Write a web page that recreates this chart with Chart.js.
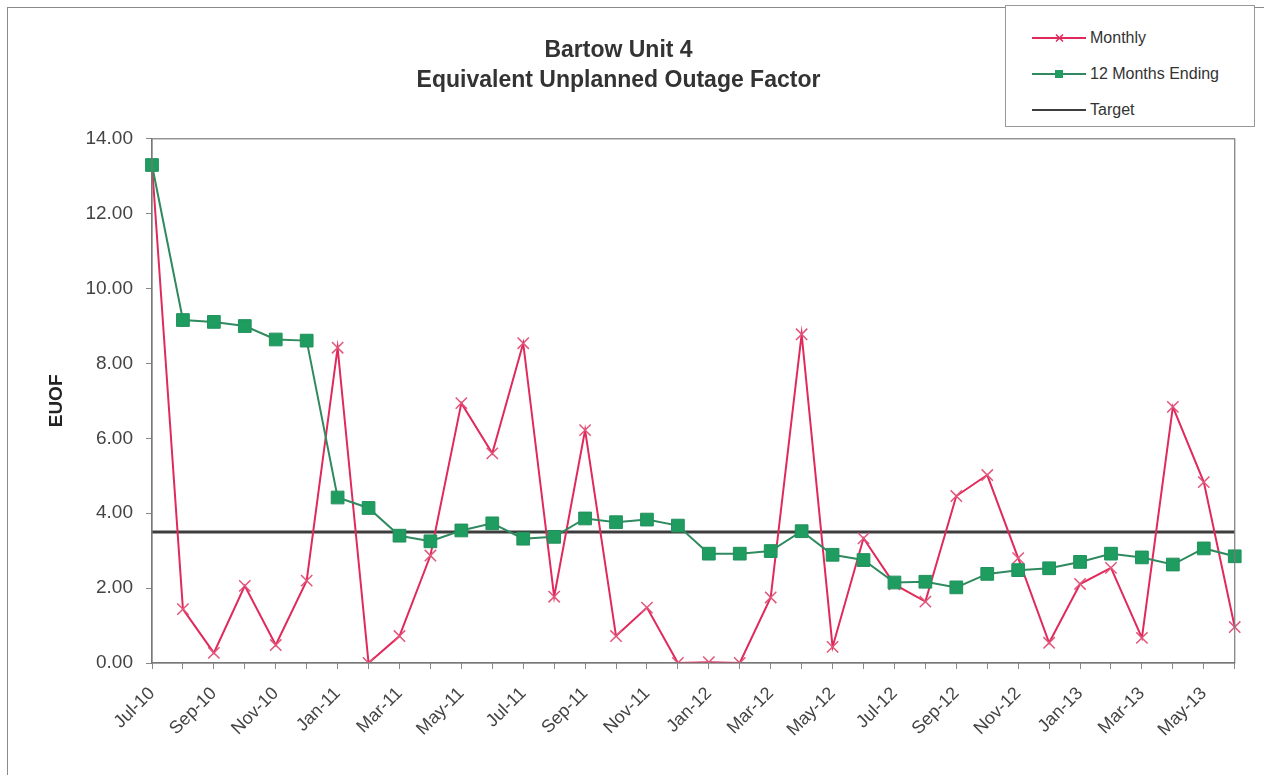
<!DOCTYPE html>
<html>
<head>
<meta charset="utf-8">
<title>Bartow Unit 4 - EUOF</title>
<script src="https://cdn.jsdelivr.net/npm/chart.js@4.4.1/dist/chart.umd.min.js"></script>
<style>
  html, body { margin:0; padding:0; background:#fff; }
  body { width:1264px; height:775px; position:relative; overflow:hidden; font-family:"Liberation Sans", Arial, sans-serif; }
  #frame { position:absolute; left:7px; top:7px; width:1300px; height:800px; border:1px solid #8a8a8a; box-sizing:border-box; }
  #wrap { position:absolute; left:0; top:0; width:1264px; height:775px; }
  #legend { position:absolute; left:1005px; top:5px; width:250px; height:122px; border:1px solid #999; background:#fff; box-sizing:border-box; }
  #legend .item { position:absolute; left:26px; height:20px; display:flex; align-items:center; font-size:16px; color:#333; }
  #legend svg { margin-right:2px; }
</style>
</head>
<body>
<div id="frame"></div>
<div id="wrap"><canvas id="chart-euof" width="1264" height="775"></canvas></div>
<div id="legend"></div>

<script>
// --- DATA ---
const months = [
  'Jul-10','Aug-10','Sep-10','Oct-10','Nov-10','Dec-10',
  'Jan-11','Feb-11','Mar-11','Apr-11','May-11','Jun-11','Jul-11','Aug-11','Sep-11','Oct-11','Nov-11','Dec-11',
  'Jan-12','Feb-12','Mar-12','Apr-12','May-12','Jun-12','Jul-12','Aug-12','Sep-12','Oct-12','Nov-12','Dec-12',
  'Jan-13','Feb-13','Mar-13','Apr-13','May-13','Jun-13'
];
const monthly = [
  13.30, 1.44, 0.27, 2.06, 0.48, 2.20,
  8.42, 0.00, 0.72, 2.87, 6.94, 5.60, 8.54, 1.77, 6.22, 0.72, 1.48, 0.00,
  0.02, 0.00, 1.75, 8.78, 0.43, 3.33, 2.10, 1.64, 4.46, 5.02, 2.80, 0.54,
  2.11, 2.54, 0.67, 6.84, 4.83, 0.96
];
const twelveMonthsEnding = [
  13.30, 9.16, 9.11, 9.00, 8.64, 8.61,
  4.42, 4.14, 3.40, 3.25, 3.54, 3.73, 3.32, 3.37, 3.86, 3.76, 3.83, 3.67,
  2.92, 2.92, 2.99, 3.52, 2.89, 2.75, 2.15, 2.17, 2.02, 2.38, 2.48, 2.53,
  2.70, 2.92, 2.82, 2.63, 3.06, 2.85
];
const targetValue = 3.50;
const yTicks = [0, 2, 4, 6, 8, 10, 12, 14];

document.addEventListener("DOMContentLoaded", () => {

  const FONT = '"Liberation Sans", Arial, sans-serif';

  // frame round the plot area
  const plotFrame = {
    id: 'plotFrame',
    afterDatasetsDraw(chart) {
      const a = chart.chartArea, c = chart.ctx;
      c.save();
      c.strokeStyle = '#7a7a7a';
      c.lineWidth = 1.2;
      c.strokeRect(a.left, a.top, a.right - a.left, a.bottom - a.top);
      c.restore();
    }
  };

  const datasets = [
    {
      label: 'Monthly',
      data: monthly,
      borderColor: '#e02a5c',
      backgroundColor: '#e02a5c',
      borderWidth: 2,
      pointStyle: 'crossRot',
      pointRadius: 8,
      pointBorderWidth: 1.5,
      pointBorderColor: '#e2557a',
      tension: 0,
      order: 2
    },
    {
      label: '12 Months Ending',
      data: twelveMonthsEnding,
      borderColor: '#2f8a5f',
      backgroundColor: '#1f9c60',
      borderWidth: 2,
      pointStyle: 'rect',
      pointRadius: 9,
      pointBorderWidth: 1,
      pointBorderColor: '#22915c',
      pointBackgroundColor: '#1f9c60',
      tension: 0,
      order: 1
    },
    {
      label: 'Target',
      data: months.map(() => targetValue),
      borderColor: '#3d3d3d',
      backgroundColor: '#3d3d3d',
      borderWidth: 3,
      pointRadius: 0,
      tension: 0,
      order: 3
    }
  ];

  new Chart(document.getElementById('chart-euof').getContext('2d'), {
    type: 'line',
    data: { labels: months, datasets },
    plugins: [plotFrame],
    options: {
      responsive: false,
      animation: false,
      layout: { padding: { left: 0, right: 27, top: 0, bottom: 0 } },
      plugins: {
        legend: { display: false },
        tooltip: { enabled: false },
        title: {
          display: true,
          text: ['Bartow Unit 4', 'Equivalent Unplanned Outage Factor'],
          color: '#333',
          font: { family: FONT, size: 23, weight: 'bold', lineHeight: 1.3 },
          padding: { top: 36, bottom: 43 }
        }
      },
      scales: {
        x: {
          offset: false,
          grid: { drawOnChartArea: false, drawTicks: true, tickLength: 6, color: '#888' },
          border: { color: '#777', width: 1.2 },
          ticks: {
            autoSkip: false,
            maxRotation: 45,
            minRotation: 45,
            color: '#444',
            padding: 14,
            font: { family: FONT, size: 18 },
            callback: (v, i) => (i % 2 === 0 ? months[i] : '')
          },
          afterFit: (s) => { s.height = 112; }
        },
        y: {
          min: 0,
          max: 14,
          afterBuildTicks: (s) => { s.ticks = yTicks.map(v => ({ value: v })); },
          grid: { drawOnChartArea: false, drawTicks: true, tickLength: 6, color: '#888' },
          border: { color: '#777', width: 1.2 },
          ticks: {
            color: '#444',
            padding: 13,
            font: { family: FONT, size: 19 },
            callback: (v) => Number(v).toFixed(2)
          },
          title: {
            display: true,
            text: 'EUOF',
            color: '#222',
            font: { family: FONT, size: 19, weight: 'bold', lineHeight: 1.2 },
            padding: { top: 45, bottom: 0 }
          },
          afterFit: (s) => { s.width = 152; }
        }
      }
    }
  });

  // --- LEGEND (html, top right box) ---
  const legendEl = document.getElementById('legend');
  const rowsY = [22, 58, 94];
  datasets.forEach((d, i) => {
    let marker = '';
    if (d.pointStyle === 'crossRot') {
      marker = `<path d="M24 6.5 L31 13.5 M31 6.5 L24 13.5" stroke="${d.borderColor}" stroke-width="1.5"/>`;
    } else if (d.pointStyle === 'rect') {
      marker = `<rect x="23" y="6" width="8" height="8" fill="${d.pointBackgroundColor}"/>`;
    }
    const item = document.createElement('div');
    item.className = 'item';
    item.style.top = rowsY[i] + 'px';
    item.innerHTML = `
      <svg width="56" height="20" viewBox="0 0 56 20">
        <line x1="0" y1="10" x2="54" y2="10" stroke="${d.borderColor}" stroke-width="2"/>
        ${marker}
      </svg><span>${d.label}</span>`;
    legendEl.appendChild(item);
  });

});
</script>
</body>
</html>
